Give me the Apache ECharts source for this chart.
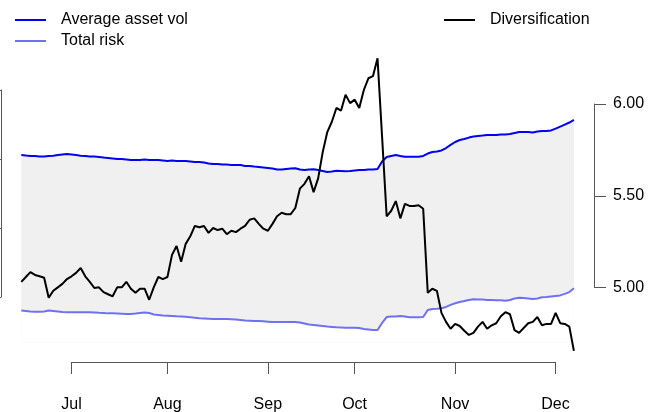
<!DOCTYPE html>
<html><head><meta charset="utf-8">
<script src="https://cdn.jsdelivr.net/npm/echarts@6/dist/echarts.min.js"></script>
<style>html,body{margin:0;padding:0;background:#fff}#c{width:663px;height:412px}</style>
</head><body><div id="c"></div>
<script>
// Average asset vol (right axis)
const avgVol = [5.722,5.719,5.717,5.717,5.714,5.714,5.717,5.718,5.722,5.725,5.728,5.725,5.722,5.718,5.717,5.714,5.714,5.711,5.708,5.706,
5.703,5.700,5.700,5.698,5.695,5.695,5.695,5.698,5.695,5.695,5.695,5.692,5.689,5.692,5.689,5.689,5.689,5.687,5.684,5.684,
5.681,5.676,5.673,5.673,5.670,5.670,5.668,5.668,5.668,5.662,5.662,5.659,5.657,5.654,5.651,5.648,5.643,5.643,5.646,5.648,
5.650,5.643,5.640,5.643,5.644,5.640,5.635,5.629,5.632,5.636,5.635,5.633,5.635,5.638,5.640,5.640,5.643,5.643,5.646,5.687,
5.711,5.717,5.722,5.717,5.713,5.713,5.713,5.713,5.717,5.730,5.738,5.741,5.747,5.760,5.777,5.793,5.804,5.809,5.817,5.823,
5.826,5.828,5.831,5.831,5.831,5.834,5.834,5.837,5.842,5.847,5.847,5.847,5.845,5.850,5.853,5.853,5.856,5.866,5.877,5.888,
5.899,5.913];
// Total risk (right axis)
const totalRisk = [4.875,4.872,4.869,4.868,4.868,4.869,4.875,4.872,4.869,4.866,4.865,4.865,4.865,4.865,4.865,4.865,4.864,4.862,4.861,4.859,
4.859,4.858,4.857,4.856,4.856,4.858,4.861,4.864,4.861,4.853,4.850,4.847,4.846,4.845,4.843,4.842,4.841,4.838,4.835,4.832,
4.831,4.830,4.829,4.828,4.828,4.828,4.827,4.826,4.823,4.820,4.819,4.817,4.817,4.816,4.814,4.812,4.812,4.812,4.812,4.812,
4.812,4.809,4.804,4.798,4.796,4.793,4.790,4.787,4.785,4.783,4.782,4.781,4.781,4.781,4.779,4.774,4.771,4.768,4.768,4.807,
4.839,4.842,4.842,4.845,4.842,4.838,4.838,4.838,4.839,4.877,4.883,4.884,4.887,4.894,4.905,4.914,4.921,4.926,4.932,4.936,
4.935,4.934,4.932,4.932,4.931,4.930,4.928,4.932,4.940,4.944,4.943,4.940,4.937,4.940,4.947,4.948,4.951,4.954,4.957,4.965,
4.975,4.996];
// Diversification (left axis)
const diversification = [1.122,1.129,1.136,1.132,1.130,1.128,1.099,1.109,1.114,1.119,1.126,1.130,1.135,1.142,1.130,1.122,1.113,1.114,1.107,1.104,
1.101,1.114,1.114,1.122,1.112,1.106,1.112,1.112,1.096,1.114,1.129,1.126,1.129,1.161,1.174,1.151,1.177,1.188,1.203,1.201,
1.203,1.193,1.200,1.197,1.199,1.191,1.196,1.194,1.199,1.203,1.212,1.214,1.206,1.199,1.196,1.206,1.217,1.222,1.220,1.220,
1.229,1.257,1.264,1.275,1.252,1.272,1.310,1.339,1.354,1.374,1.370,1.393,1.381,1.386,1.374,1.400,1.417,1.420,1.446,1.332,
1.217,1.225,1.239,1.214,1.235,1.232,1.232,1.233,1.228,1.106,1.112,1.109,1.077,1.064,1.054,1.061,1.058,1.051,1.045,1.048,
1.057,1.064,1.054,1.059,1.062,1.072,1.078,1.075,1.052,1.048,1.055,1.062,1.064,1.071,1.059,1.061,1.061,1.077,1.062,1.061,
1.057,1.022];
const monthLabels = ['Jul','Aug','Sep','Oct','Nov','Dec'];
const monthIdx = [11,32,54,73,95,117];
const volTicks = [5.0, 5.5, 6.0];
const divTicks = [1.1, 1.2, 1.3, 1.4];
const bandBase = 4.7; // lower reference level for the shaded band fill

const FONT = 'Liberation Sans, Arial, Helvetica, sans-serif';
const BLUE = '#0000f5', LAV = '#7070f2', AXC = '#555';
const pairs = arr => arr.map((v, i) => [i, v]);
const lastIdx = avgVol.length - 1;

const chart = echarts.init(document.getElementById('c'), null, {renderer: 'canvas'});
chart.setOption({
  animation: false,
  backgroundColor: '#fff',
  textStyle: {fontFamily: FONT},
  grid: [
    {left: 21.3, right: 89.1, top: 104, bottom: 124.5, outerBoundsMode: 'none', containLabel: false},
    {left: 21.3, right: 89.1, top: 90, bottom: 115, outerBoundsMode: 'none', containLabel: false},
    {left: 71.5, right: 107.5, top: 104, bottom: 124.5, outerBoundsMode: 'none', containLabel: false}
  ],
  legend: [
    {data: ['Average asset vol', 'Total risk'], orient: 'vertical', left: 10, top: 7, itemWidth: 31, itemHeight: 2,
     itemGap: 5, icon: 'rect', selectedMode: false,
     textStyle: {fontSize: 16, color: '#000', fontFamily: FONT, padding: [0, 0, 0, 10]}},
    {data: ['Diversification'], orient: 'vertical', left: 439, top: 7, itemWidth: 31, itemHeight: 2,
     icon: 'rect', selectedMode: false,
     textStyle: {fontSize: 16, color: '#000', fontFamily: FONT, padding: [0, 0, 0, 10]}}
  ],
  xAxis: [
    {type: 'value', gridIndex: 0, min: 0, max: lastIdx, show: false},
    {type: 'value', gridIndex: 1, min: 0, max: lastIdx, show: false},
    {type: 'value', gridIndex: 2, min: monthIdx[0], max: monthIdx[monthIdx.length - 1], position: 'bottom', offset: 74.5,
     axisLine: {show: true, onZero: false, lineStyle: {color: AXC, width: 1}},
     axisTick: {show: true, customValues: monthIdx, length: 12, lineStyle: {color: AXC}},
     axisLabel: {customValues: monthIdx, margin: 35, fontSize: 16, color: '#000', fontFamily: FONT,
       formatter: v => monthLabels[monthIdx.indexOf(v)] || ''},
     splitLine: {show: false}}
  ],
  yAxis: [
    {type: 'value', gridIndex: 0, position: 'right', offset: 20.1, min: volTicks[0], max: volTicks[volTicks.length - 1], interval: 0.5,
     axisLine: {show: true, onZero: false, lineStyle: {color: AXC, width: 1}},
     axisTick: {show: true, length: 12, lineStyle: {color: AXC}},
     axisLabel: {margin: 19, fontSize: 16, color: '#000', fontFamily: FONT, formatter: v => v.toFixed(2)},
     splitLine: {show: false}},
    {type: 'value', gridIndex: 1, position: 'left', offset: 20.3, min: divTicks[0], max: divTicks[divTicks.length - 1], interval: 0.1,
     axisLine: {show: true, onZero: false, lineStyle: {color: AXC, width: 1}},
     axisTick: {show: true, length: 12, lineStyle: {color: AXC}},
     axisLabel: {margin: 19, fontSize: 16, color: '#000', fontFamily: FONT, formatter: v => v.toFixed(2)},
     splitLine: {show: false}},
    {type: 'value', gridIndex: 2, min: 0, max: 1, show: false}
  ],
  series: [
    {name: 'Average asset vol', type: 'line', xAxisIndex: 0, yAxisIndex: 0, data: pairs(avgVol),
     symbol: 'none', clip: false, z: 2, lineStyle: {color: BLUE, width: 2}, itemStyle: {color: BLUE},
     areaStyle: {color: '#f0f0f0', opacity: 1, origin: bandBase}},
    {name: 'Total risk', type: 'line', xAxisIndex: 0, yAxisIndex: 0, data: pairs(totalRisk),
     symbol: 'none', clip: false, z: 3, lineStyle: {color: LAV, width: 2}, itemStyle: {color: LAV},
     areaStyle: {color: '#ffffff', opacity: 1, origin: bandBase}},
    {name: 'Diversification', type: 'line', xAxisIndex: 1, yAxisIndex: 1, data: pairs(diversification),
     symbol: 'none', clip: false, z: 4, lineStyle: {color: '#000', width: 2}, itemStyle: {color: '#000'}}
  ]
});
</script></body></html>
